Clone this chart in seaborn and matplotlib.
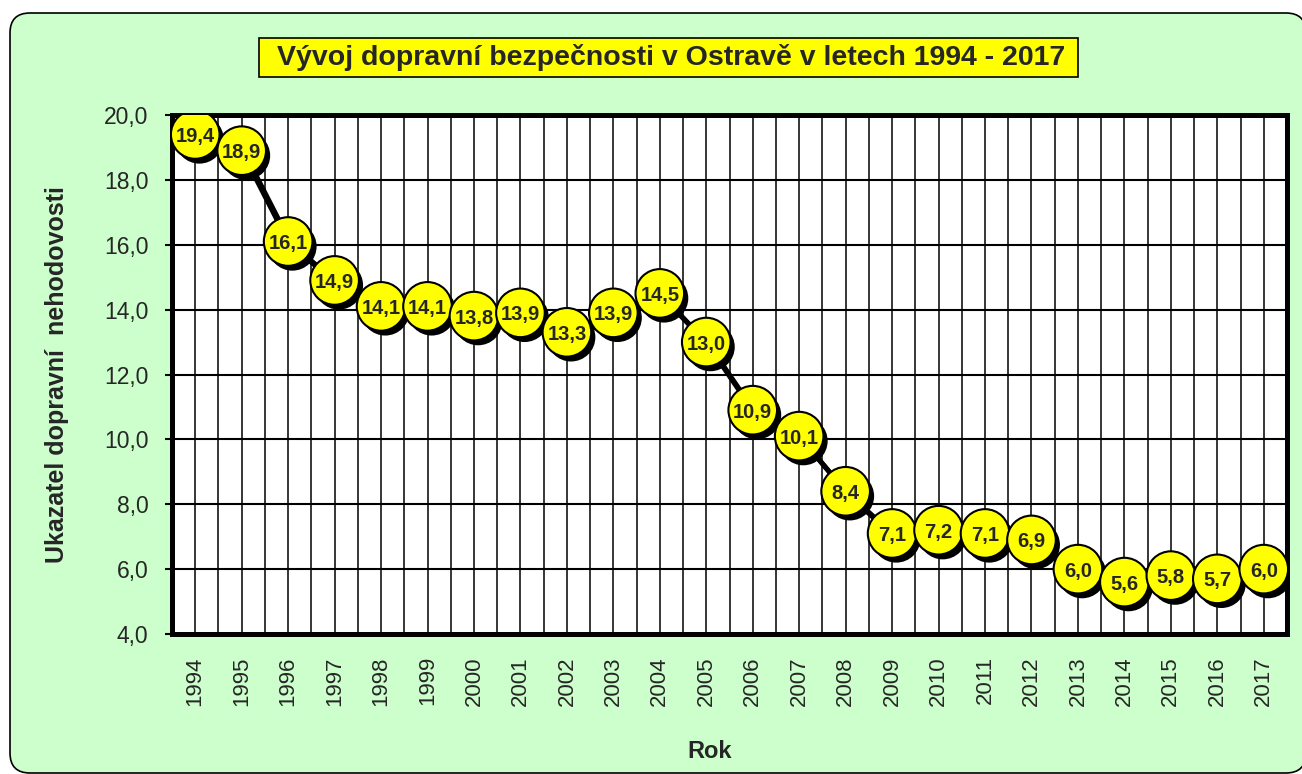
import pandas as pd
import seaborn as sns
import matplotlib.pyplot as plt
import matplotlib.patheffects as pe
from matplotlib.patches import FancyBboxPatch, Rectangle

years = list(range(1994, 2018))
values = [19.4, 18.9, 16.1, 14.9, 14.1, 14.1, 13.8, 13.9, 13.3, 13.9, 14.5, 13.0,
          10.9, 10.1, 8.4, 7.1, 7.2, 7.1, 6.9, 6.0, 5.6, 5.8, 5.7, 6.0]
y_ticks = [4.0, 6.0, 8.0, 10.0, 12.0, 14.0, 16.0, 18.0, 20.0]

df = pd.DataFrame({"Rok": years, "Ukazatel": values})

sns.set_style("white")
plt.rcParams['font.family'] = ['Liberation Sans', 'DejaVu Sans']

fig = plt.figure(figsize=(13.02, 7.74), dpi=100, facecolor='white')

# green rounded background frame (pixel coords)
frame = FancyBboxPatch((10, 1), 1296, 760, boxstyle='round,pad=0,rounding_size=20',
                       transform=None, facecolor='#CCFFCC', edgecolor='black', linewidth=1.2,
                       zorder=0)
fig.add_artist(frame)

ax = fig.add_axes([172/1302, 1-634/774, 1115/1302, 519/774])
ax.set_facecolor('white')

# line with shadow
sns.lineplot(data=df, x="Rok", y="Ukazatel", ax=ax, color='black', linewidth=3.6,
             zorder=3, legend=False)
ax.lines[0].set_path_effects([pe.SimpleLineShadow(offset=(3, -3.5), shadow_color='black', alpha=1),
                              pe.Normal()])

# yellow markers with shadow
sns.scatterplot(data=df, x="Rok", y="Ukazatel", ax=ax, s=35**2, color='yellow',
                edgecolor='black', linewidth=1.5, zorder=4, legend=False)
ax.collections[-1].set_path_effects([pe.SimplePatchShadow(offset=(3, -3.5), shadow_rgbFace='black', alpha=1),
                                     pe.Normal()])

for x, v in zip(years, values):
    ax.text(x, v, f"{v:.1f}".replace('.', ','), ha='center', va='center_baseline',
            fontsize=14.5, fontweight='bold', zorder=5)

ax.set_xlim(1993.5, 2017.5)
ax.set_ylim(4, 20)
ax.set_yticks(y_ticks)
ax.set_yticklabels([f"{t:.1f}".replace('.', ',') for t in y_ticks], fontsize=16.5)
ax.set_xticks([y - 0.5 for y in years] + [2017.5])
ax.set_xticklabels([])
ax.set_xticks(years, minor=True)
ax.set_xticklabels([str(y) for y in years], minor=True, rotation=90, fontsize=16)
ax.tick_params(axis='x', which='major', direction='out', length=5, width=1.5, color='black')
ax.tick_params(axis='x', which='minor', length=0, pad=16)
ax.tick_params(axis='y', direction='out', length=5, width=1.5, color='black', pad=12, left=True)

ax.grid(axis='x', which='both', color='black', linewidth=1.1)
ax.grid(axis='y', which='major', color='black', linewidth=1.5)
ax.set_axisbelow(True)
for s in ax.spines.values():
    s.set_visible(True)
    s.set_color('black')
    s.set_linewidth(3.6)

ax.set_xlabel("Rok", fontsize=17, fontweight='bold', va='center')
ax.xaxis.set_label_coords((709.5-172)/1115, (634-752)/519)
ax.set_ylabel("Ukazatel dopravní  nehodovosti", fontsize=18, fontweight='bold', va='center')
ax.yaxis.set_label_coords((57-172)/1115, 0.5)

# title box
fig.add_artist(Rectangle((259/1302, 1-77/774), 819/1302, 39/774, transform=fig.transFigure,
                         facecolor='yellow', edgecolor='black', linewidth=1.2, zorder=1))
fig.text(671/1302, 1-57.5/774, "Vývoj dopravní bezpečnosti v Ostravě v letech 1994 - 2017",
         ha='center', va='center', fontsize=20.5, fontweight='bold', zorder=2)

fig.savefig('out.png', dpi=100, facecolor='white')
